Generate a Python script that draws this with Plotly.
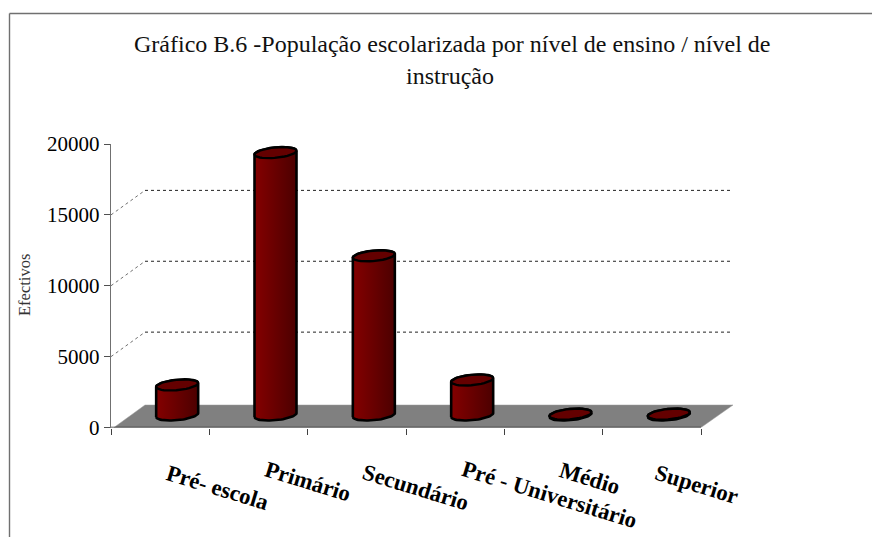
import numpy as np
import plotly.graph_objects as go

title_lines = ["Gráfico B.6 -População escolarizada por nível de ensino / nível de", "instrução"]
categories = ["Pré- escola", "Primário", "Secundário", "Pré - Universitário", "Médio", "Superior"]
values = [2120, 18510, 11230, 2470, 60, 60]
y_ticks = [0, 5000, 10000, 15000, 20000]
y_title = "Efectivos"

W, H = 872, 537
X_L, X_R = 111.0, 701.0     # front of the category axis, px
Y_B, Y_T = 427.5, 144.0     # value axis, px
X_END = 736.0
CAT_PX = (X_R - X_L) / len(categories)
VAL_PX = (Y_B - Y_T) / 20000
SERIF = "Liberation Serif"

dxu = lambda px: px / CAT_PX
dyu = lambda px: px / VAL_PX

fig = go.Figure()

# floor
fl = dyu(22.5)
fig.add_trace(go.Scatter(
    x=[-0.5 + dxu(3), -0.5 + dxu(34), 5.5 + dxu(32), 5.5, -0.5 + dxu(3)],
    y=[0, fl, fl, 0, 0], mode="lines", fill="toself",
    fillcolor="#808080", line=dict(color="#9a9a9a", width=0.5)))

# gridlines with the diagonal side wall part
for v in y_ticks[1:-1]:
    back = v + dyu(24.5)
    fig.add_trace(go.Scatter(x=[-0.5, -0.5 + dxu(34)], y=[v, back], mode="lines",
                             line=dict(color="#707070", width=1, dash="3px,3px")))
    fig.add_trace(go.Scatter(x=[-0.5 + dxu(34), 5.5 + dxu(32)], y=[back, back], mode="lines",
                             line=dict(color="#222222", width=1, dash="3px,3px")))

# cylinders
BAR_DX, BAR_DY = dxu(17), dyu(12.5)
RX, RY, TILT = 21.0, 5.2, 1.9
centers = [i + BAR_DX for i in range(len(categories))]

fig.add_trace(go.Bar(x=centers, y=values, base=[BAR_DY] * len(values),
                     width=dxu(2 * RX - 2), marker=dict(color="#6a0000", line=dict(width=0))))

def arc(cx, cy, t0, t1, n=40):
    t = np.linspace(t0, t1, n)
    return (cx + dxu(RX) * np.cos(t),
            cy + dyu(RY) * np.sin(t) + dyu(TILT) * np.cos(t))

for cx, v in zip(centers, values):
    top = BAR_DY + v
    bx, by = arc(cx, BAR_DY, np.pi, 2 * np.pi)
    tx, ty = arc(cx, top, 0, np.pi)
    px = np.r_[bx, tx, bx[0]]
    py = np.r_[by, ty, by[0]]
    fig.add_trace(go.Scatter(
        x=px, y=py, mode="lines", fill="toself",
        fillgradient=dict(type="horizontal", colorscale=[[0, "#840000"], [1, "#4c0000"]]),
        line=dict(color="#000000", width=2.6)))
    ex, ey = arc(cx, top, 0, 2 * np.pi)
    fig.add_trace(go.Scatter(x=ex, y=ey, mode="lines", fill="toself", fillcolor="#640000",
                             line=dict(color="#000000", width=2.4)))

# front edge of the category axis
fig.add_trace(go.Scatter(x=[-0.5, 5.5], y=[0, 0], mode="lines",
                         line=dict(color="#303030", width=1.3)))

def note(text, px_x, px_y, **kw):
    return dict(text=text, x=px_x / W, y=1 - px_y / H, xref="paper", yref="paper",
                xanchor="center", yanchor="middle", showarrow=False, **kw)

annotations = [
    note(title_lines[0], 452, 44, font=dict(family=SERIF, size=24, color="#111111")),
    note(title_lines[1], 450, 76, font=dict(family=SERIF, size=24, color="#111111")),
    note(y_title, 24, 285, textangle=-90, font=dict(family=SERIF, size=16.5, color="#333333")),
]
label_pos = [(217, 487), (308, 481), (416, 487), (549, 494), (590, 478), (697, 484)]
for name, (lx, ly) in zip(categories, label_pos):
    annotations.append(note(f"<b>{name}</b>", lx, ly, textangle=17,
                            font=dict(family=SERIF, size=22.7, color="#000000")))

fig.update_layout(
    template="none",
    width=W, height=H, autosize=False, showlegend=False, hovermode=False,
    paper_bgcolor="white", plot_bgcolor="rgba(0,0,0,0)",
    margin=dict(l=0, r=0, t=0, b=0), barmode="overlay", annotations=annotations,
    shapes=[dict(type="line", xref="paper", yref="paper", x0=9.5 / W, x1=1, y0=1 - 13.5 / H, y1=1 - 13.5 / H,
                 line=dict(color="#707070", width=1.4)),
            dict(type="line", xref="paper", yref="paper", x0=9.5 / W, x1=9.5 / W, y0=1 - 13.5 / H, y1=0,
                 line=dict(color="#707070", width=1.4))],
    xaxis=dict(domain=[X_L / W, X_END / W], range=[-0.5, 5.5 + dxu(X_END - X_R)], showgrid=False, zeroline=False,
               showline=False, tickmode="array", tickvals=[i - 0.5 for i in range(7)], ticktext=[""] * 7,
               ticks="outside", ticklen=6, tickcolor="#404040", tickwidth=1, automargin=False),
    yaxis=dict(domain=[1 - Y_B / H, 1 - Y_T / H], range=[0, 20000], showgrid=False, zeroline=False,
               showline=True, linecolor="#707070", linewidth=1.4, tickmode="array", tickvals=y_ticks,
               ticktext=[str(t) for t in y_ticks], automargin=False,
               ticks="outside", ticklen=6, tickcolor="#505050", tickwidth=1.2,
               tickfont=dict(family=SERIF, size=21, color="#000000")),
)

fig.write_html("out.html", config=dict(displayModeBar=False),
               post_script="document.body.style.margin='0';document.documentElement.style.overflow='hidden';")
